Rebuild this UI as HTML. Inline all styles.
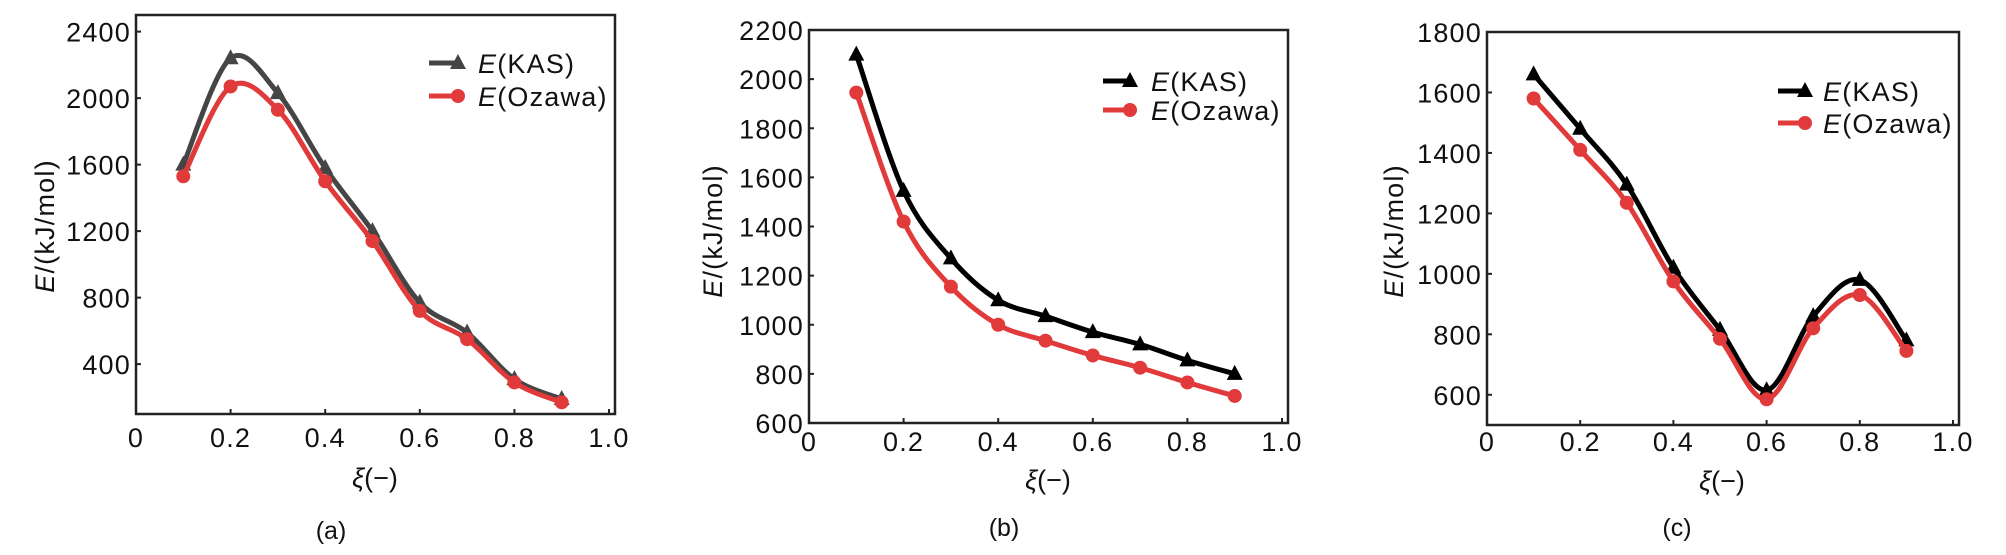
<!DOCTYPE html>
<html><head><meta charset="utf-8"><style>
html,body{margin:0;padding:0;background:#fff;}
svg{display:block;font-family:"Liberation Sans",Arial,sans-serif;}
</style></head><body>
<svg id="fig" width="2006" height="555" viewBox="0 0 2006 555"></svg>
<script>
const xValues = [0.1,0.2,0.3,0.4,0.5,0.6,0.7,0.8,0.9];
const xTicks = [0,0.2,0.4,0.6,0.8,1.0];
const xTickLabels = ["0","0.2","0.4","0.6","0.8","1.0"];
const kasA = [1600,2240,2030,1580,1200,770,590,310,190];
const ozaA = [1530,2070,1930,1500,1140,720,550,290,170];
const kasB = [2100,1545,1270,1100,1035,970,920,855,800];
const ozaB = [1945,1420,1155,1000,935,875,825,765,710];
const kasC = [1660,1480,1295,1020,815,615,860,980,780];
const ozaC = [1580,1410,1235,975,785,585,820,930,745];
const yTicksA = [400,800,1200,1600,2000,2400];
const yTicksB = [600,800,1000,1200,1400,1600,1800,2000,2200];
const yTicksC = [600,800,1000,1200,1400,1600,1800];

const NS="http://www.w3.org/2000/svg";
const svg=document.getElementById('fig');
function mk(tag,attrs,parent){const e=document.createElementNS(NS,tag);for(const k in attrs)e.setAttribute(k,attrs[k]);(parent||svg).appendChild(e);return e;}

const FS=27, LS=1.2;
const panels=[
 {id:'a',L:136,R:615,T:15,B:414,ymin:100,ymax:2500,yt:yTicksA,kas:kasA,oza:ozaA,kasColor:'#454545',
  leg:{x1:429,x2:458,tx:478,y1:63,y2:96},xl:{x:375,y:477},cap:{x:331,y:530},yl:{x:44,y:226},tickY:437},
 {id:'b',L:809,R:1288,T:30,B:423,ymin:600,ymax:2200,yt:yTicksB,kas:kasB,oza:ozaB,kasColor:'#000',
  leg:{x1:1103,x2:1130,tx:1151,y1:81,y2:110},xl:{x:1048,y:479},cap:{x:1004,y:527},yl:{x:712,y:231},tickY:441},
 {id:'c',L:1487,R:1959,T:32,B:425,ymin:500,ymax:1800,yt:yTicksC,kas:kasC,oza:ozaC,kasColor:'#000',
  leg:{x1:1778,x2:1805,tx:1823,y1:91,y2:123},xl:{x:1722,y:480},cap:{x:1677,y:527},yl:{x:1393,y:231},tickY:441}
];

function smoothPath(pts){
  let d='M'+pts[0][0]+','+pts[0][1];
  for(let i=0;i<pts.length-1;i++){
    const p0=pts[Math.max(0,i-1)],p1=pts[i],p2=pts[i+1],p3=pts[Math.min(pts.length-1,i+2)];
    const c1=[p1[0]+(p2[0]-p0[0])/6,p1[1]+(p2[1]-p0[1])/6];
    const c2=[p2[0]-(p3[0]-p1[0])/6,p2[1]-(p3[1]-p1[1])/6];
    d+=' C'+c1[0]+','+c1[1]+' '+c2[0]+','+c2[1]+' '+p2[0]+','+p2[1];
  }
  return d;
}
function tri(g,x,y,c){return mk('polygon',{points:`${x},${y-9} ${x-8},${y+6} ${x+8},${y+6}`,fill:c},g);}

panels.forEach(p=>{
  const g=mk('g',{});
  
  
  const xs=v=>p.L+(v-0)/(1.0)*((p.R-6)-p.L);
  const ys=v=>p.B-(v-p.ymin)/(p.ymax-p.ymin)*(p.B-p.T);
  const fr=mk('rect',{x:p.L,y:p.T,width:p.R-p.L,height:p.B-p.T,fill:'none',stroke:'#222','stroke-width':2.5},g);
  
  
  xTicks.forEach((t,i)=>{
    const x=xs(t);
    mk('line',{x1:x,y1:p.B,x2:x,y2:p.B-5,stroke:'#222','stroke-width':2},g);
    const tl=mk('text',{x:x,y:p.tickY+10,'font-size':FS,'letter-spacing':LS,'text-anchor':'middle',fill:'#111'},g);
    tl.textContent=xTickLabels[i];
    
    
  });
  p.yt.forEach(t=>{
    const y=ys(t);
    mk('line',{x1:p.L,y1:y,x2:p.L+5,y2:y,stroke:'#222','stroke-width':2},g);
    const tl=mk('text',{x:p.L-5,y:y+10,'font-size':FS,'letter-spacing':LS,'text-anchor':'end',fill:'#111'},g);
    tl.textContent=String(t);
    
    
  });
  const kp=xValues.map((x,i)=>[xs(x),ys(p.kas[i])]);
  const op=xValues.map((x,i)=>[xs(x),ys(p.oza[i])]);
  const kl=mk('path',{d:smoothPath(kp),fill:'none',stroke:p.kasColor,'stroke-width':5},g);
  
  
  kp.forEach(q=>{const m=tri(g,q[0],q[1],p.kasColor);});
  const ol=mk('path',{d:smoothPath(op),fill:'none',stroke:'#e03a3a','stroke-width':5},g);
  
  
  op.forEach(q=>{const m=mk('circle',{cx:q[0],cy:q[1],r:7,fill:'#e03a3a'},g);});
  const lg=mk('g',{},g);
  
  
  mk('line',{x1:p.leg.x1,y1:p.leg.y1,x2:p.leg.x2,y2:p.leg.y1,stroke:p.kasColor,'stroke-width':5},lg);
  tri(lg,p.leg.x2,p.leg.y1,p.kasColor);
  mk('line',{x1:p.leg.x1,y1:p.leg.y2,x2:p.leg.x2,y2:p.leg.y2,stroke:'#e03a3a','stroke-width':5},lg);
  mk('circle',{cx:p.leg.x2,cy:p.leg.y2,r:7,fill:'#e03a3a'},lg);
  const t1=mk('text',{x:p.leg.tx,y:p.leg.y1+10,'font-size':FS,'letter-spacing':LS,fill:'#111'},lg);
  t1.innerHTML='<tspan font-style="italic">E</tspan>(KAS)';
  
  
  const t2=mk('text',{x:p.leg.tx,y:p.leg.y2+10,'font-size':FS,'letter-spacing':LS,fill:'#111'},lg);
  t2.innerHTML='<tspan font-style="italic">E</tspan>(Ozawa)';
  
  
  const xt=mk('text',{x:p.xl.x,y:p.xl.y+10,'font-size':FS,'text-anchor':'middle',fill:'#111'},g);
  xt.innerHTML='<tspan font-style="italic">ξ</tspan>(−)';
  
  
  const yt=mk('text',{x:0,y:0,'font-size':FS,'letter-spacing':LS,'text-anchor':'middle',fill:'#111',transform:`translate(${p.yl.x+10},${p.yl.y}) rotate(-90)`},g);
  yt.innerHTML='<tspan font-style="italic">E</tspan>/(kJ/mol)';
  
  
  const cp=mk('text',{x:p.cap.x,y:p.cap.y+9,'font-size':25,'text-anchor':'middle',fill:'#111'},g);
  cp.textContent='('+p.id+')';
  
  
});
</script>
</body></html>
